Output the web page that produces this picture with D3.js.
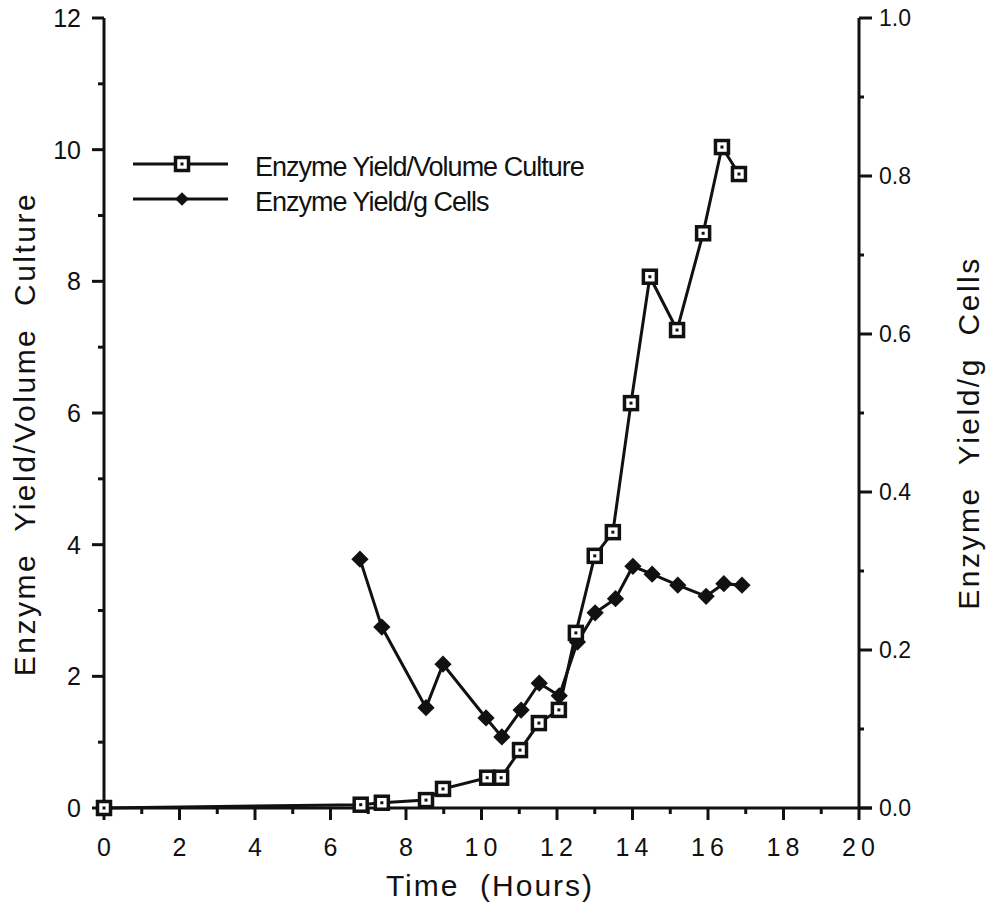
<!DOCTYPE html>
<html>
<head>
<meta charset="utf-8">
<script src="https://cdn.jsdelivr.net/npm/d3@7"></script>
<style>
  body { margin: 0; background: #fff; }
  svg { display: block; font-family: "Liberation Sans", Arial, sans-serif; }
</style>
</head>
<body>
<div id="viz"></div>
<script>
// time in hours, enzyme yield / volume culture (left axis)
const volTime = [0, 6.8, 7.36, 8.53, 8.98, 10.15, 10.52, 11.02, 11.52, 12.05, 12.5, 13.0, 13.48, 13.96, 14.46, 15.18, 15.87, 16.37, 16.82];
const volYield = [0, 0.05, 0.08, 0.12, 0.29, 0.46, 0.46, 0.88, 1.29, 1.49, 2.66, 3.83, 4.19, 6.15, 8.07, 7.26, 8.73, 10.04, 9.63];

// time in hours, enzyme yield / g cells (right axis)
const cellTime = [6.78, 7.36, 8.53, 8.98, 10.12, 10.54, 11.05, 11.53, 12.06, 12.54, 13.01, 13.55, 14.01, 14.52, 15.2, 15.95, 16.42, 16.9];
const cellYield = [0.315, 0.229, 0.127, 0.182, 0.114, 0.090, 0.124, 0.158, 0.142, 0.210, 0.247, 0.265, 0.306, 0.296, 0.282, 0.268, 0.284, 0.282];

const xTicks = [0, 2, 4, 6, 8, 10, 12, 14, 16, 18, 20];
const leftTicks = [0, 2, 4, 6, 8, 10, 12];
const rightTicks = [0, 0.2, 0.4, 0.6, 0.8, 1.0];

const seriesNames = ["Enzyme Yield/Volume Culture", "Enzyme Yield/g Cells"];

const width = 988, height = 920;
const svg = d3.select("#viz").append("svg")
    .attr("width", width)
    .attr("height", height);

const x = d3.scaleLinear().domain([0, 20]).range([104, 859]);
const yL = d3.scaleLinear().domain([0, 12]).range([808, 18]);
const yR = d3.scaleLinear().domain([0, 1]).range([808, 18]);

const ink = "#111";

// axes (drawn by hand to get the odd tick styles of the original)
const axes = svg.append("g").attr("stroke", ink).attr("stroke-width", 3).attr("fill", "none");
axes.append("line").attr("x1", x(0)).attr("x2", 872).attr("y1", yL(0)).attr("y2", yL(0));
axes.append("line").attr("x1", x(0)).attr("x2", x(0)).attr("y1", yL(12)).attr("y2", yL(0));
axes.append("line").attr("x1", x(20)).attr("x2", x(20)).attr("y1", yR(1)).attr("y2", yR(0));

// x ticks: majors every 2, minors every 1
d3.range(0, 21).forEach(t => {
    const major = t % 2 === 0;
    axes.append("line")
        .attr("x1", x(t)).attr("x2", x(t))
        .attr("y1", yL(0)).attr("y2", yL(0) + (major ? 12 : 6));
});
// left ticks
d3.range(0, 13).forEach(v => {
    const major = v % 2 === 0;
    axes.append("line")
        .attr("x1", x(0) - (major ? 12 : 6)).attr("x2", x(0))
        .attr("y1", yL(v)).attr("y2", yL(v));
});
// right ticks
d3.range(0, 11).forEach(i => {
    const v = i / 10;
    const major = i % 2 === 0;
    axes.append("line")
        .attr("x1", x(20)).attr("x2", x(20) + (major ? 13 : 5))
        .attr("y1", yR(v)).attr("y2", yR(v));
});

// tick labels
svg.append("g").selectAll("text")
    .data(xTicks)
    .join("text")
    .attr("x", d => x(d) + (d >= 10 ? 2 : 0))
    .attr("y", 856)
    .attr("text-anchor", "middle")
    .attr("font-size", 25)
    .attr("letter-spacing", d => d >= 10 ? 5 : 0)
    .attr("fill", ink)
    .text(d => d);

svg.append("g").selectAll("text")
    .data(leftTicks)
    .join("text")
    .attr("x", 81)
    .attr("y", d => yL(d) + 9)
    .attr("text-anchor", "end")
    .attr("font-size", 25)
    .attr("fill", ink)
    .text(d => d);

svg.append("g").selectAll("text")
    .data(rightTicks)
    .join("text")
    .attr("x", 879)
    .attr("y", d => yR(d) + 8)
    .attr("font-size", 23)
    .attr("fill", ink)
    .text(d => d3.format(".1f")(d));

// axis titles
svg.append("text")
    .attr("x", 490).attr("y", 896)
    .attr("text-anchor", "middle")
    .attr("font-size", 30)
    .attr("letter-spacing", 2)
    .attr("fill", ink)
    .attr("style", "white-space: pre")
    .text("Time  (Hours)");

svg.append("text")
    .attr("transform", "translate(35,434) rotate(-90)")
    .attr("text-anchor", "middle")
    .attr("font-size", 30)
    .attr("letter-spacing", 2.5)
    .attr("fill", ink)
    .attr("style", "white-space: pre")
    .text("Enzyme  Yield/Volume  Culture");

svg.append("text")
    .attr("transform", "translate(979,433) rotate(-90)")
    .attr("text-anchor", "middle")
    .attr("font-size", 30)
    .attr("letter-spacing", 2.5)
    .attr("fill", ink)
    .attr("style", "white-space: pre")
    .text("Enzyme  Yield/g  Cells");

// lines
const volData = volTime.map((t, i) => [t, volYield[i]]);
const cellData = cellTime.map((t, i) => [t, cellYield[i]]);

svg.append("path")
    .datum(volData)
    .attr("fill", "none").attr("stroke", ink).attr("stroke-width", 3)
    .attr("d", d3.line().x(d => x(d[0])).y(d => yL(d[1])));

svg.append("path")
    .datum(cellData)
    .attr("fill", "none").attr("stroke", ink).attr("stroke-width", 3)
    .attr("d", d3.line().x(d => x(d[0])).y(d => yR(d[1])));

const diamond = d3.symbol().type(d3.symbolDiamond2).size(190);

function drawSquare(g, cx, cy) {
    g.append("rect")
        .attr("x", cx - 6.5).attr("y", cy - 6.5)
        .attr("width", 13).attr("height", 13)
        .attr("fill", "#fff").attr("stroke", ink).attr("stroke-width", 3.5);
    g.append("rect")
        .attr("x", cx - 1.5).attr("y", cy - 1.5)
        .attr("width", 3).attr("height", 3)
        .attr("fill", ink);
}

const cellMarks = svg.append("g");
cellMarks.selectAll("path")
    .data(cellData)
    .join("path")
    .attr("transform", d => `translate(${x(d[0])},${yR(d[1])})`)
    .attr("d", diamond)
    .attr("fill", ink);

const volMarks = svg.append("g");
volData.forEach(d => drawSquare(volMarks, x(d[0]), yL(d[1])));

// legend
const legend = svg.append("g");
[164, 199].forEach((ly, i) => {
    legend.append("line")
        .attr("x1", 133).attr("x2", 228)
        .attr("y1", ly).attr("y2", ly)
        .attr("stroke", ink).attr("stroke-width", 3);
    if (i === 0) {
        drawSquare(legend, 182, ly);
    } else {
        legend.append("path")
            .attr("transform", `translate(182,${ly})`)
            .attr("d", d3.symbol().type(d3.symbolDiamond2).size(120))
            .attr("fill", ink);
    }
    legend.append("text")
        .attr("x", 255)
        .attr("y", ly + 12)
        .attr("font-size", 27)
        .attr("letter-spacing", -1)
        .attr("fill", ink)
        .text(seriesNames[i]);
});
</script>
</body>
</html>
